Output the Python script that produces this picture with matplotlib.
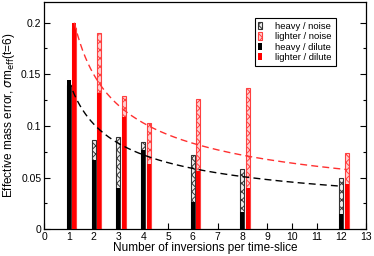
import numpy as np
import matplotlib
matplotlib.use("Agg")
import matplotlib.pyplot as plt
from matplotlib.ticker import MultipleLocator

plt.rcParams["font.family"] = ["Liberation Sans", "DejaVu Sans"]
plt.rcParams["hatch.linewidth"] = 0.7

# inversions per time-slice
n_inv = np.array([1, 2, 3, 4, 6, 8, 12])
heavy_noise = [0.140, 0.086, 0.089, 0.084, 0.0715, 0.058, 0.050]
lighter_noise = [0.195, 0.190, 0.129, 0.103, 0.126, 0.137, 0.0737]
heavy_dilute = [0.144, 0.0667, 0.040, 0.077, 0.026, 0.0167, 0.0145]
lighter_dilute = [0.200, 0.132, 0.109, 0.0635, 0.056, 0.040, 0.0438]

W = 0.16
OFF = 0.22

fig = plt.figure(figsize=(3.74, 2.56), dpi=100)
ax = fig.add_axes([0.118, 0.105, 0.861, 0.887])

ax.bar(n_inv, heavy_noise, width=W, color="#f0f0f0", edgecolor="#333333",
       hatch="xxxx", linewidth=0.8, label="heavy / noise", zorder=2)
ax.bar(n_inv + OFF, lighter_noise, width=W, color="#ffd0d0", edgecolor="#ff4040",
       hatch="xxxx", linewidth=0.8, label="lighter / noise", zorder=2)
ax.bar(n_inv, heavy_dilute, width=W, color="black", linewidth=0,
       label="heavy / dilute", zorder=3)
ax.bar(n_inv + OFF, lighter_dilute, width=W, color="red", linewidth=0,
       label="lighter / dilute", zorder=3)

# 1/sqrt(N) scaling from the single-inversion dilute points
xs = np.linspace(1.0, 12.0, 200)
ax.plot(xs, heavy_dilute[0] / np.sqrt(xs), color="black", ls=(0, (5, 3)),
        lw=1.0, zorder=4)
ax.plot(xs + OFF, lighter_dilute[0] / np.sqrt(xs), color="#ff3030",
        ls=(0, (5, 3)), lw=1.0, zorder=4)

ax.set_xlim(0, 13)
ax.set_ylim(0, 0.22)
ax.xaxis.set_major_locator(MultipleLocator(1))
ax.yaxis.set_minor_locator(MultipleLocator(0.025))
ax.set_yticks([0, 0.05, 0.1, 0.15, 0.2])
ax.set_yticklabels(["0", "0.05", "0.1", "0.15", "0.2"])
ax.tick_params(axis="both", which="major", direction="in", length=4,
               labelsize=7.5, right=True, width=0.8, pad=2)
ax.tick_params(axis="y", which="minor", direction="in", length=2.5,
               right=True, width=0.8)
for s in ax.spines.values():
    s.set_linewidth(0.9)

ax.set_xlabel("Number of inversions per time-slice", fontsize=8.5, labelpad=0)
ax.set_ylabel(r"Effective mass error, $\sigma$m$_{\rm eff}$(t=6)",
              fontsize=8.5, labelpad=3)

leg = ax.legend(loc="upper right", bbox_to_anchor=(0.92, 0.95), fontsize=6.8,
                handlelength=0.4, handleheight=0.8, handletextpad=1.4,
                labelspacing=0.15, borderpad=0.4, fancybox=False,
                framealpha=1)
leg.get_frame().set_edgecolor("black")
leg.get_frame().set_linewidth(0.8)

fig.savefig("out.png", dpi=100)
